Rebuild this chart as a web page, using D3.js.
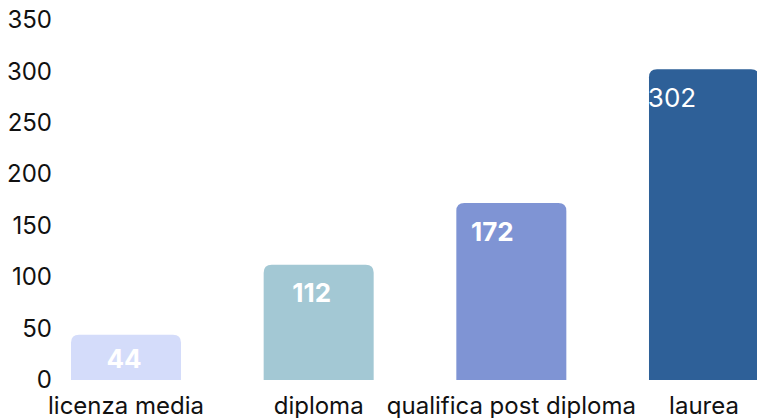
<!DOCTYPE html>
<html>
<head>
<meta charset="utf-8">
<script src="https://cdn.jsdelivr.net/npm/d3@7"></script>
<style>
  html, body { margin: 0; padding: 0; background: #fff; }
  svg { display: block; font-family: Inter, "Noto Sans", sans-serif; }
</style>
</head>
<body>
<svg id="chart" width="757" height="418"></svg>
<script>
const categories = ["licenza media", "diploma", "qualifica post diploma", "laurea"];
const values = [44, 112, 172, 302];
const colors = ["#d4dcfa", "#a3c8d4", "#7f94d4", "#2e6098"];
const labelWeights = ["700", "700", "700", "400"];
const labelAnchorShift = [-2, -7, -19, -32];
const yTicks = [0, 50, 100, 150, 200, 250, 300, 350];

const svg = d3.select("#chart");

const x = d3.scaleBand()
  .domain(categories)
  .range([71, 759])
  .paddingInner(0.429)
  .paddingOuter(0);

const y = d3.scaleLinear().domain([0, 350]).range([380, 20]);

// y axis: labels only
const yAxis = d3.axisLeft(y).tickValues(yTicks).tickSize(0).tickPadding(0);
svg.append("g")
  .attr("transform", "translate(52,0)")
  .call(yAxis)
  .call(g => g.select(".domain").remove())
  .call(g => g.selectAll("text")
    .attr("fill", "#111")
    .style("font-size", "24px")
    .style("font-family", "Inter, sans-serif"));

// bars with rounded top corners
const r = 8;
function barPath(x0, y0, w, h) {
  const rr = Math.min(r, h, w / 2);
  return `M${x0},${y0 + h}V${y0 + rr}Q${x0},${y0} ${x0 + rr},${y0}` +
         `H${x0 + w - rr}Q${x0 + w},${y0} ${x0 + w},${y0 + rr}V${y0 + h}Z`;
}

const data = categories.map((c, i) => ({ c, v: values[i], i }));

svg.append("g").selectAll("path")
  .data(data)
  .join("path")
  .attr("d", d => barPath(x(d.c), y(d.v), x.bandwidth(), y(0) - y(d.v)))
  .attr("fill", d => colors[d.i]);

// value labels inside the bars
svg.append("g").selectAll("text")
  .data(data)
  .join("text")
  .attr("x", d => x(d.c) + x.bandwidth() / 2 + labelAnchorShift[d.i])
  .attr("y", d => Math.min(y(d.v) + 28, y(0) - 22))
  .attr("text-anchor", "middle")
  .attr("dominant-baseline", "central")
  .attr("fill", "#fff")
  .style("font-size", "26px")
  .style("font-weight", d => labelWeights[d.i])
  .text(d => d.v);

// category axis
const xAxis = d3.axisBottom(x).tickSize(0).tickPadding(0);
svg.append("g")
  .attr("transform", "translate(0,405)")
  .call(xAxis)
  .call(g => g.select(".domain").remove())
  .call(g => g.selectAll("text")
    .attr("fill", "#111")
    .attr("dy", "0")
    .attr("dominant-baseline", "central")
    .style("font-size", "24px")
    .style("font-family", "Inter, sans-serif"));
</script>
</body>
</html>
